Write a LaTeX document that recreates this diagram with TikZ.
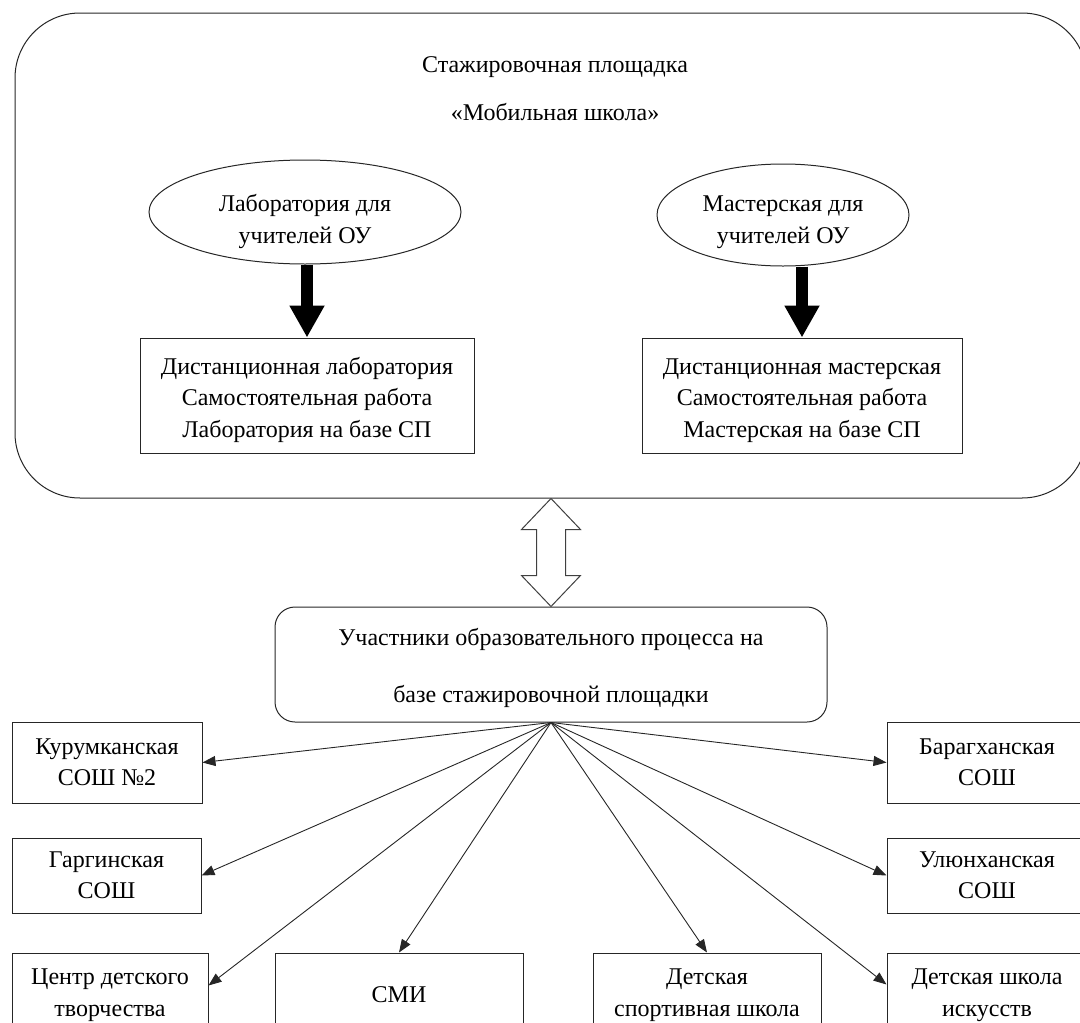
\documentclass[tikz,border=0pt]{standalone}
\usepackage{fontspec}
\setmainfont{Liberation Serif}
\usetikzlibrary{arrows.meta,shapes.geometric,calc}
\newcommand{\lowtext}[2]{\raisebox{-#1}[\height][\depth]{\begin{tabular}{@{}c@{}}#2\end{tabular}}}
\begin{document}
\begin{tikzpicture}[x=1pt,y=-1pt, font=\fontsize{24}{31.5}\selectfont,
  box/.style={draw=black!85, line width=1pt, inner sep=0pt, align=center},
  fan/.style={draw=black!85, line width=0.9pt, -{Triangle[length=13pt,width=10pt]}},
  fat/.style={line width=12pt, -{Triangle[length=32pt,width=33pt]}}]
\useasboundingbox (0,0) rectangle (1080,1023);
\clip (0,0) rectangle (1080,1023);
% upper block
\node[box, rounded corners=65pt, minimum width=1072pt, minimum height=485pt] (main) at (551,255.5) {};
\node[align=center] (title) at (555,89) {Стажировочная площадка\\[16.5pt]«Мобильная школа»};
\node[box, ellipse, minimum width=312pt, minimum height=104pt] (ell1) at (305,212) {\lowtext{9pt}{Лаборатория для\\учителей ОУ}};
\node[box, ellipse, minimum width=252pt, minimum height=102pt] (ell2) at (783,215) {\lowtext{6pt}{Мастерская для\\учителей ОУ}};
\node[box, minimum width=334pt, minimum height=115pt] (box1) at (307,395.5) {\lowtext{4pt}{Дистанционная лаборатория\\Самостоятельная работа\\Лаборатория на базе СП}};
\node[box, minimum width=320pt, minimum height=115pt] (box2) at (802,395.5) {\lowtext{4pt}{Дистанционная мастерская\\Самостоятельная работа\\Мастерская на базе СП}};
\draw[fat] (box1.north |- ell1.south) -- (box1.north);
\draw[fat] (box2.north |- ell2.south) -- (box2.north);
% participants
\node[box, rounded corners=20pt, minimum width=552pt, minimum height=115pt] (part) at (551,664.5) {\lowtext{3pt}{Участники образовательного процесса на\\[25.5pt]базе стажировочной площадки}};
% double arrow
\coordinate (A) at (main.south);
\coordinate (B) at (part.north);
\draw[draw=black!75, line width=1pt, fill=white]
  (A) -- ($(A)+(29.5,31)$) -- ($(A)+(14.5,31)$) -- ($(B)+(14.5,-31)$) -- ($(B)+(29.5,-31)$)
  -- (B) -- ($(B)+(-29.5,-31)$) -- ($(B)+(-14.5,-31)$) -- ($(A)+(-14.5,31)$) -- ($(A)+(-29.5,31)$) -- cycle;
% lower boxes
\node[box, minimum width=190pt, minimum height=81pt] (kur) at (107,762.5) {Курумканская\\СОШ №2};
\node[box, minimum width=189pt, minimum height=75pt] (gar) at (106.5,875.5) {Гаргинская\\СОШ};
\node[box, minimum width=196pt, minimum height=84pt] (cdt) at (110,995) {Центр детского\\творчества};
\node[box, minimum width=248pt, minimum height=84pt] (smi) at (399,995) {СМИ};
\node[box, minimum width=228pt, minimum height=84pt] (dss) at (707,995) {Детская\\спортивная школа};
\node[box, minimum width=200pt, minimum height=81pt] (bar) at (987,762.5) {Барагханская\\СОШ};
\node[box, minimum width=200pt, minimum height=75pt] (ul) at (987,875.5) {Улюнханская\\СОШ};
\node[box, minimum width=200pt, minimum height=84pt] (dsi) at (987,995) {Детская школа\\искусств};
% fan
\draw[fan] (part.south) -- (kur.east);
\draw[fan] (part.south) -- (gar.east);
\draw[fan] (part.south) -- ($(cdt.north east)+(0,33)$);
\draw[fan] (part.south) -- (smi.north);
\draw[fan] (part.south) -- (dss.north);
\draw[fan] (part.south) -- (bar.west);
\draw[fan] (part.south) -- (ul.west);
\draw[fan] (part.south) -- ($(dsi.north west)+(0,32)$);
\end{tikzpicture}
\end{document}
